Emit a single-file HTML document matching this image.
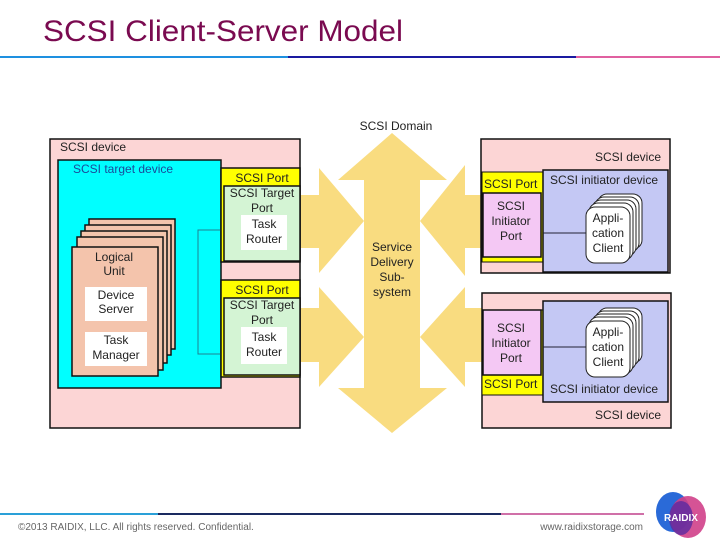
<!DOCTYPE html>
<html><head><meta charset="utf-8"><style>
html,body{margin:0;padding:0;background:#fff;}
svg{display:block;}
text{font-family:"Liberation Sans",Arial,sans-serif;}
</style></head><body>
<svg width="720" height="540" viewBox="0 0 720 540" xmlns="http://www.w3.org/2000/svg">
<text x="43" y="41" font-family="Liberation Sans" font-size="30" textLength="360" lengthAdjust="spacingAndGlyphs" fill="#7a0a50">SCSI Client-Server Model</text>
<rect x="0" y="56" width="288" height="2" fill="#1e90e0"/>
<rect x="288" y="56" width="288" height="2" fill="#1a1aa0"/>
<rect x="576" y="56" width="144" height="2" fill="#e060a0"/>

<!-- yellow arrows -->
<g fill="#f9dc80">
<polygon points="392,133 447,180 420,180 420,388 447,388 392,433 338,388 364,388 364,180 338,180"/>
<polygon points="300,195 319,195 319,168 364,221 319,273 319,248 300,248"/>
<polygon points="300,308 319,308 319,287 364,337 319,387 319,362 300,362"/>
<polygon points="482,195 465,195 465,165 420,221 465,276 465,248 482,248"/>
<polygon points="482,308 465,308 465,287 420,337 465,387 465,362 482,362"/>
</g>
<text x="396" y="130" font-size="12" text-anchor="middle" fill="#222">SCSI Domain</text>
<g font-size="12" text-anchor="middle" fill="#222">
<text x="392" y="251">Service</text><text x="392" y="266">Delivery</text><text x="392" y="281">Sub-</text><text x="392" y="296">system</text>
</g>

<!-- left device -->
<rect x="50" y="139" width="250" height="289" fill="#fcd5d5" stroke="#111" stroke-width="1.5"/>
<text x="60" y="151" font-size="12" fill="#222">SCSI device</text>
<rect x="58" y="160" width="163" height="228" fill="#00ffff" stroke="#111" stroke-width="1.5"/>
<text x="73" y="173" font-size="12" fill="#1a4a9a">SCSI target device</text>
<g fill="#f4c4ac" stroke="#111" stroke-width="1.5">
<rect x="89" y="219" width="86" height="130"/>
<rect x="85" y="225" width="86" height="130"/>
<rect x="81" y="231" width="86" height="132"/>
<rect x="77" y="237" width="86" height="133"/>
<rect x="72" y="247" width="86" height="129"/>
</g>
<text x="114" y="261" font-size="12" text-anchor="middle" fill="#222">Logical</text>
<text x="114" y="275" font-size="12" text-anchor="middle" fill="#222">Unit</text>
<rect x="85" y="287" width="62" height="34" fill="#fff"/>
<text x="116" y="299" font-size="12" text-anchor="middle" fill="#222">Device</text>
<text x="116" y="313" font-size="12" text-anchor="middle" fill="#222">Server</text>
<rect x="85" y="332" width="62" height="34" fill="#fff"/>
<text x="116" y="344" font-size="12" text-anchor="middle" fill="#222">Task</text>
<text x="116" y="359" font-size="12" text-anchor="middle" fill="#222">Manager</text>
<polyline points="221,230 198,230 198,354 221,354" fill="none" stroke="#208090" stroke-width="1"/>

<!-- target ports -->
<rect x="221" y="168" width="79" height="94" fill="#ffff00" stroke="#111" stroke-width="1.5"/>
<text x="262" y="182" font-size="12" text-anchor="middle" fill="#222">SCSI Port</text>
<rect x="224" y="186" width="76" height="75" fill="#d4f4d4" stroke="#111" stroke-width="1.5"/>
<text x="262" y="197" font-size="12" text-anchor="middle" fill="#222">SCSI Target</text>
<text x="262" y="212" font-size="12" text-anchor="middle" fill="#222">Port</text>
<rect x="241" y="215" width="46" height="35" fill="#fff"/>
<text x="264" y="228" font-size="12" text-anchor="middle" fill="#222">Task</text>
<text x="264" y="243" font-size="12" text-anchor="middle" fill="#222">Router</text>

<rect x="221" y="280" width="79" height="97" fill="#ffff00" stroke="#111" stroke-width="1.5"/>
<text x="262" y="294" font-size="12" text-anchor="middle" fill="#222">SCSI Port</text>
<rect x="224" y="298" width="76" height="77" fill="#d4f4d4" stroke="#111" stroke-width="1.5"/>
<text x="262" y="309" font-size="12" text-anchor="middle" fill="#222">SCSI Target</text>
<text x="262" y="324" font-size="12" text-anchor="middle" fill="#222">Port</text>
<rect x="241" y="327" width="46" height="37" fill="#fff"/>
<text x="264" y="341" font-size="12" text-anchor="middle" fill="#222">Task</text>
<text x="264" y="356" font-size="12" text-anchor="middle" fill="#222">Router</text>

<!-- right upper device -->
<rect x="481" y="139" width="189" height="134" fill="#fcd5d5" stroke="#111" stroke-width="1.5"/>
<text x="661" y="161" font-size="12" text-anchor="end" fill="#222">SCSI device</text>
<rect x="482" y="172" width="61" height="90" fill="#ffff00" stroke="#111" stroke-width="1"/>
<text x="484" y="188" font-size="12" fill="#222">SCSI Port</text>
<rect x="483" y="193" width="58" height="64" fill="#f4c8f4" stroke="#111" stroke-width="1.5"/>
<text x="511" y="210" font-size="12" text-anchor="middle" fill="#222">SCSI</text>
<text x="511" y="225" font-size="12" text-anchor="middle" fill="#222">Initiator</text>
<text x="511" y="240" font-size="12" text-anchor="middle" fill="#222">Port</text>
<rect x="543" y="170" width="125" height="102" fill="#c4c8f4" stroke="#111" stroke-width="1.5"/>
<text x="604" y="184" font-size="12" text-anchor="middle" fill="#222">SCSI initiator device</text>
<line x1="543" y1="233" x2="586" y2="233" stroke="#223" stroke-width="1"/>
<g fill="#fff" stroke="#222" stroke-width="1">
<rect x="598" y="194" width="44" height="55" rx="9"/>
<rect x="595" y="197" width="44" height="55" rx="9"/>
<rect x="592" y="200" width="44" height="56" rx="9"/>
<rect x="589" y="203" width="44" height="57" rx="9"/>
<rect x="586" y="207" width="44" height="56" rx="9"/>
</g>
<text x="608" y="222" font-size="12" text-anchor="middle" fill="#222">Appli-</text>
<text x="608" y="237" font-size="12" text-anchor="middle" fill="#222">cation</text>
<text x="608" y="252" font-size="12" text-anchor="middle" fill="#222">Client</text>

<!-- right lower device -->
<rect x="482" y="293" width="189" height="135" fill="#fcd5d5" stroke="#111" stroke-width="1.5"/>
<text x="661" y="419" font-size="12" text-anchor="end" fill="#222">SCSI device</text>
<rect x="482" y="310" width="61" height="85" fill="#ffff00" stroke="#111" stroke-width="1"/>
<text x="484" y="388" font-size="12" fill="#222">SCSI Port</text>
<rect x="483" y="310" width="58" height="65" fill="#f4c8f4" stroke="#111" stroke-width="1.5"/>
<text x="511" y="332" font-size="12" text-anchor="middle" fill="#222">SCSI</text>
<text x="511" y="347" font-size="12" text-anchor="middle" fill="#222">Initiator</text>
<text x="511" y="362" font-size="12" text-anchor="middle" fill="#222">Port</text>
<rect x="543" y="301" width="125" height="101" fill="#c4c8f4" stroke="#111" stroke-width="1.5"/>
<text x="604" y="393" font-size="12" text-anchor="middle" fill="#222">SCSI initiator device</text>
<line x1="543" y1="347" x2="586" y2="347" stroke="#223" stroke-width="1"/>
<g fill="#fff" stroke="#222" stroke-width="1">
<rect x="598" y="308" width="44" height="55" rx="9"/>
<rect x="595" y="311" width="44" height="55" rx="9"/>
<rect x="592" y="314" width="44" height="56" rx="9"/>
<rect x="589" y="317" width="44" height="57" rx="9"/>
<rect x="586" y="321" width="44" height="56" rx="9"/>
</g>
<text x="608" y="336" font-size="12" text-anchor="middle" fill="#222">Appli-</text>
<text x="608" y="351" font-size="12" text-anchor="middle" fill="#222">cation</text>
<text x="608" y="366" font-size="12" text-anchor="middle" fill="#222">Client</text>

<!-- footer -->
<rect x="0" y="513" width="158" height="2" fill="#2aa0d8"/>
<rect x="158" y="513" width="208" height="2" fill="#1a2a60"/>
<rect x="366" y="513" width="135" height="2" fill="#1a2a60"/>
<rect x="501" y="513" width="143" height="2" fill="#d070a8"/>
<text x="18" y="530" font-size="10" fill="#666">©2013 RAIDIX, LLC. All rights reserved. Confidential.</text>
<text x="643" y="530" font-size="10" text-anchor="end" fill="#666">www.raidixstorage.com</text>
<ellipse cx="673" cy="512" rx="17" ry="20" fill="#2a6ad8"/>
<ellipse cx="688" cy="517" rx="18" ry="21" fill="#d0408a" opacity="0.9"/>
<ellipse cx="681" cy="518" rx="12" ry="17" fill="#5a2aa0" opacity="0.8"/>
<text x="681" y="521" font-size="10" font-weight="bold" text-anchor="middle" fill="#fff">RAIDIX</text>
</svg>
</body></html>
